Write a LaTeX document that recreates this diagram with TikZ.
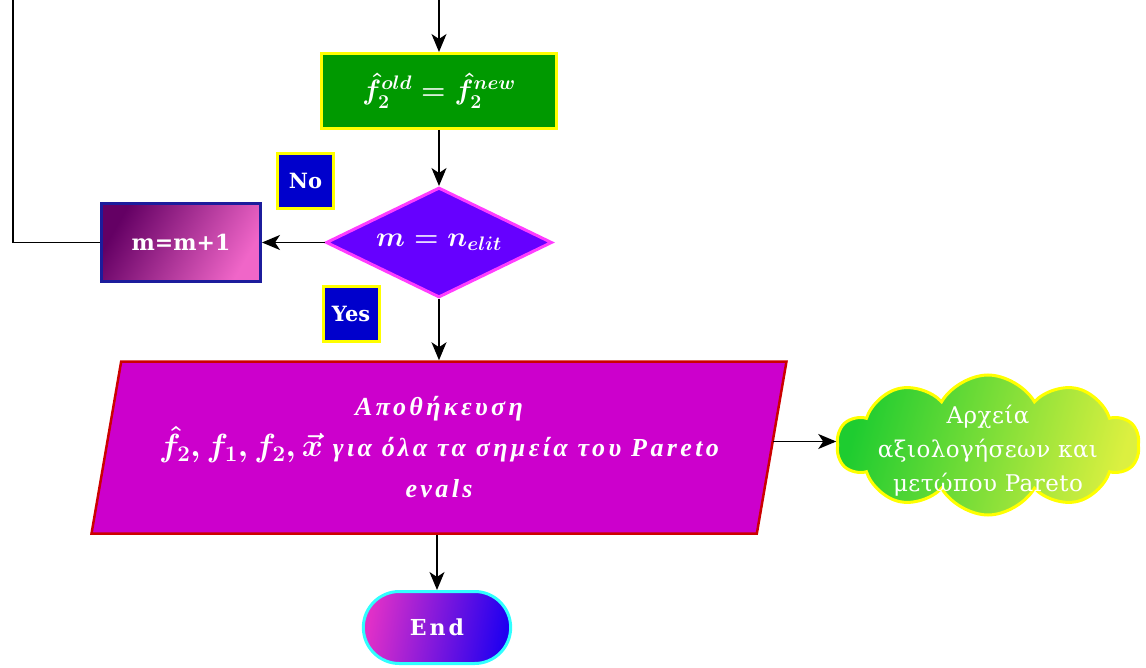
\RequirePackage{fix-cm}
\documentclass[tikz,border=0pt]{standalone}
\usepackage{fontspec}
\setmainfont{Liberation Serif}
\newfontfamily\labelfont{DejaVu Serif}
\newfontfamily\wideitalic[LetterSpace=13]{Liberation Serif}
\newfontfamily\cloudfont[LetterSpace=2]{DejaVu Serif}
\newfontfamily\endfont[LetterSpace=14]{DejaVu Serif}
\usetikzlibrary{shapes.geometric,shapes.symbols,shapes.misc,arrows.meta}

\definecolor{boxgreen}{HTML}{009900}
\definecolor{glowyellow}{HTML}{FFFF00}
\definecolor{tagblue}{HTML}{0000CC}
\definecolor{testviolet}{HTML}{6600FF}
\definecolor{testedge}{HTML}{FF3CFF}
\definecolor{incdark}{HTML}{640064}
\definecolor{incpink}{HTML}{F066C8}
\definecolor{incedge}{HTML}{1C1C9C}
\definecolor{savefill}{HTML}{CC00CC}
\definecolor{saveedge}{HTML}{CC0000}
\definecolor{cloudleft}{HTML}{1ECC30}
\definecolor{cloudright}{HTML}{DCF040}
\definecolor{endleft}{HTML}{E030C8}
\definecolor{endright}{HTML}{2000F0}
\definecolor{endedge}{HTML}{30FFFF}

\tikzset{
  flow/.style={draw=black, line width=1.5pt, -{Stealth[length=18pt,width=15pt,inset=5pt]}},
  plainline/.style={draw=black, line width=1.5pt},
  tagbox/.style={rectangle, fill=tagblue, draw=glowyellow, line width=3pt,
    minimum width=56pt, minimum height=55pt, inner sep=0pt, text=white,
    font=\labelfont\bfseries\fontsize{21}{25}\selectfont},
  procbox/.style={rectangle, fill=boxgreen, draw=glowyellow, line width=3pt,
    minimum width=235pt, minimum height=75pt, text=white,
    font=\fontsize{28}{32}\selectfont\boldmath},
  decision/.style={diamond, fill=testviolet, draw=testedge, line width=3pt,
    minimum width=226pt, minimum height=110pt, inner sep=0pt, text=white,
    font=\fontsize{28}{30}\selectfont\boldmath},
  incbox/.style={rectangle, left color=incdark, right color=incpink, shading angle=60,
    draw=incedge, line width=3pt, minimum width=159pt, minimum height=78pt,
    text=white, font=\labelfont\bfseries\fontsize{22}{26}\selectfont},
  iobox/.style={trapezium, trapezium left angle=76, trapezium right angle=104,
    trapezium stretches=true, inner sep=2pt, fill=savefill, draw=saveedge, line width=2.5pt,
    minimum width=697pt, minimum height=172pt, text=white, align=center,
    font=\wideitalic\fontsize{26}{41}\selectfont\bfseries\itshape\boldmath},
  bigmath/.style={font=\fontsize{32}{41}\selectfont},
  filecloud/.style={cloud, cloud puffs=10, cloud puff arc=120, shape border rotate=18,
    inner sep=0pt, left color=cloudleft, right color=cloudright, shading angle=75,
    draw=glowyellow, line width=3pt, minimum width=302pt, minimum height=140pt,
    text=white, font=\cloudfont\fontsize{23}{34}\selectfont},
  endbox/.style={rounded rectangle, left color=endleft, right color=endright, shading angle=80,
    draw=endedge, line width=3pt, minimum width=154pt, minimum height=72pt,
    text=white, font=\endfont\bfseries\fontsize{22}{25}\selectfont},
}
\newcommand{\storemath}[1]{{\fontsize{32}{41}\selectfont$#1$}}

\begin{document}
\begin{tikzpicture}[x=1pt,y=-1pt]
\useasboundingbox (0,0) rectangle (1146,668);

% nodes of the flow
\node[procbox] (upd) at (439,91) {$\hat{f}_2^{old}=\hat{f}_2^{new}$};
\node[decision] (test) at (439,242.5) {\makebox[0pt]{$m = n_{elit}$}};
\node[incbox] (inc) at (181,242.5) {m=m+1};
\node[tagbox] (no) at (305.5,181) {No};
\node[tagbox] (yes) at (351,314) {Yes};
\node[iobox] (save) at (439,447.5)
  {Αποθήκευση\\
   \storemath{\hat{f}_2,f_1,f_2,\vec{x}} για όλα τα σημεία του Pareto\\
   evals};
\node[filecloud] (files) at (988,445)
  {\makebox[0pt]{\raisebox{-11pt}[0pt][0pt]{\begin{tabular}{@{}c@{}}Αρχεία\\
   αξιολογήσεων και\\ μετώπου Pareto\end{tabular}}}};
\node[endbox] (end) at (437,627.5) {End};

% free ends at the top edge
\coordinate (entry) at (439,0);
\coordinate (loop) at (13,0);

% connectors
\draw[flow] (entry) -- (upd);
\draw[flow] (upd) -- (test);
\draw[flow] (test) -- (inc);
\draw[flow] (test) -- (save);
\draw[flow] ([yshift=6pt]save.east) -- ([yshift=6pt]save.east -| files.west);
\draw[flow] (save.south -| end.north) -- (end.north);
\draw[plainline] (inc.west) -| (loop);
\end{tikzpicture}
\end{document}
